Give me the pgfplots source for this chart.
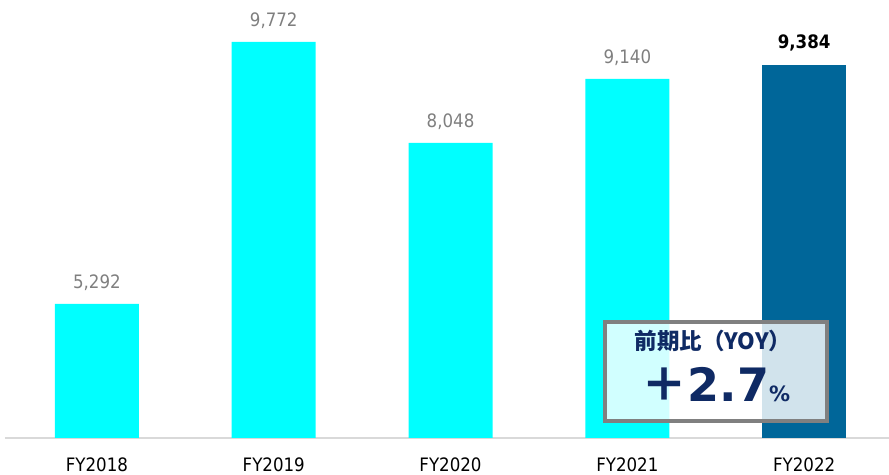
\documentclass[border=0pt]{standalone}
\usepackage{fontspec}
\setmainfont{DejaVu Sans Condensed}
\newfontfamily\cjk{Noto Sans CJK JP}
\newfontfamily\dv{DejaVu Sans}
\usepackage{pgfplots}
\pgfplotsset{compat=1.18}
\definecolor{cyanbar}{HTML}{00FFFF}
\definecolor{darkbar}{HTML}{006699}
\definecolor{labgray}{HTML}{7F7F7F}
\definecolor{navy}{HTML}{0F2A64}
\definecolor{axgray}{HTML}{D9D9D9}
\definecolor{boxgray}{HTML}{808080}
\begin{document}
\begin{tikzpicture}[x=1pt,y=1pt]
\useasboundingbox (0,0) rectangle (889,474);
\begin{axis}[at={(5pt,36pt)}, anchor=south west, scale only axis,
  width=884pt, height=438pt,
  xmin=-0.52, xmax=4.48, ymin=3000, ymax=10490,
  axis x line=bottom, axis y line=none,
  axis line style={axgray, line width=2pt, -},
  xtick={0,1,2,3,4}, xticklabels={FY2018,FY2019,FY2020,FY2021,FY2022},
  major tick length=0pt,
  xticklabel style={font=\fontsize{18.5}{20}\selectfont, text=black, anchor=north, yshift=-16pt},
  ytick=\empty,
  ybar, bar width=84pt, bar shift=0pt,
  point meta=explicit symbolic,
  nodes near coords,
  nodes near coords style={font=\fontsize{18.5}{20}\selectfont, text=labgray, anchor=south, yshift=10pt},
]
\addplot[fill=cyanbar, draw=none] coordinates {(0,5292) [5,292] (1,9772) [9,772] (2,8048) [8,048] (3,9140) [9,140]};
\addplot[fill=darkbar, draw=none, nodes near coords style={font=\fontsize{18.5}{20}\selectfont\bfseries, text=black}] coordinates {(4,9384) [9,384]};
\end{axis}
\draw[boxgray, line width=4pt, fill=white, fill opacity=0.82] (605,53) rectangle (827,152);
\node[text=navy, font=\cjk\bfseries\fontsize{22.5}{24}\selectfont] at (713,133) {前期比（YOY）};
\node[text=navy, inner sep=0pt, anchor=base] at (716,72) {{\cjk\bfseries\fontsize{46}{48}\selectfont ＋}{\dv\bfseries\fontsize{46}{48}\selectfont 2.7}{\dv\bfseries\fontsize{21}{22}\selectfont \%}};
\end{tikzpicture}
\end{document}
